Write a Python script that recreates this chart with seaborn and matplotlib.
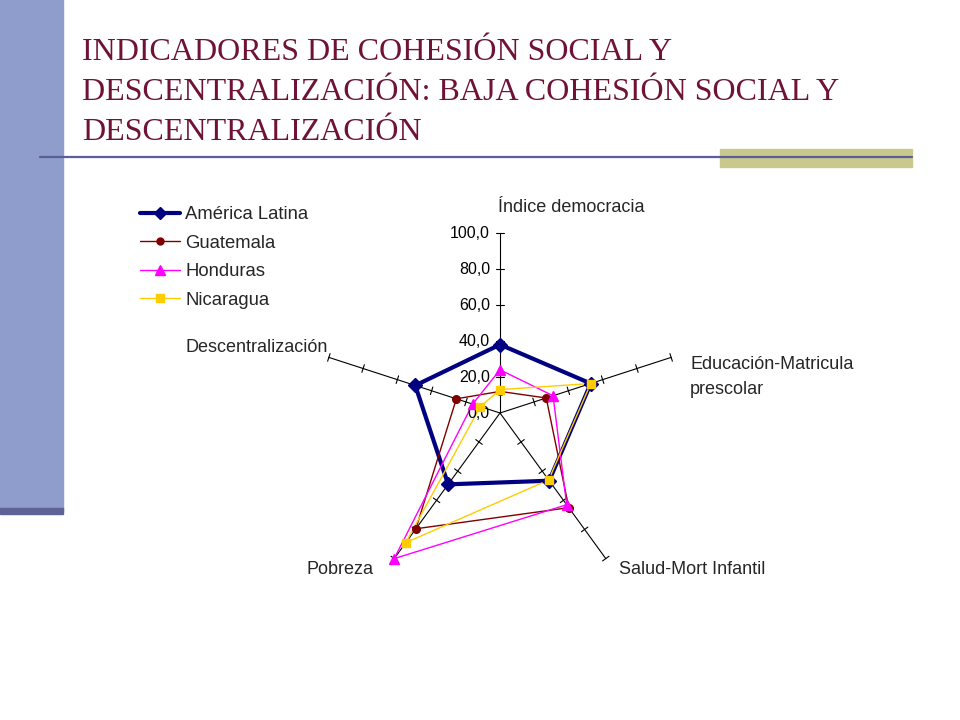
import numpy as np
import pandas as pd
import matplotlib
matplotlib.use('Agg')
import matplotlib.pyplot as plt
from matplotlib.patches import Rectangle
from matplotlib.lines import Line2D
import seaborn as sns

sns.set_style('white')
plt.rcParams['font.family'] = ['Liberation Sans', 'DejaVu Sans']

# data
categories = ['Índice democracia', 'Educación-Matricula\nprescolar', 'Salud-Mort Infantil',
              'Pobreza', 'Descentralización']
america_latina = [38, 53, 46.5, 49, 49.5]
guatemala = [12, 27, 65, 79.5, 25.5]
honduras = [24, 31, 63, 100, 16]
nicaragua = [13, 53, 46, 89, 11.5]
series_names = ['América Latina', 'Guatemala', 'Honduras', 'Nicaragua']
radial_ticks = [0, 20, 40, 60, 80, 100]
radial_labels = ['0,0', '20,0', '40,0', '60,0', '80,0', '100,0']

W, H = 960, 720


def fx(x):
    return x / W


def fy(y):
    return 1 - y / H


fig = plt.figure(figsize=(9.6, 7.2), dpi=100)

# slide decoration
fig.patches.append(Rectangle((0, fy(511)), fx(63), 1 - fy(511), transform=fig.transFigure,
                             color='#8E9DCB', zorder=0))
fig.patches.append(Rectangle((0, fy(514)), fx(63), fy(508) - fy(514), transform=fig.transFigure,
                             color='#5E6296', zorder=0))
fig.patches.append(Rectangle((fx(720), fy(167)), fx(192), fy(149) - fy(167), transform=fig.transFigure,
                             color='#C9C98E', zorder=0))
fig.lines.append(Line2D([fx(40), fx(912)], [fy(157), fy(157)], transform=fig.transFigure,
                        color='#5B5E98', lw=1.6))

title = ['INDICADORES DE COHESIÓN SOCIAL Y',
         'DESCENTRALIZACIÓN: BAJA COHESIÓN SOCIAL Y',
         'DESCENTRALIZACIÓN']
for i, line in enumerate(title):
    fig.text(fx(82), fy(53 + 39.5 * i), line, family='Liberation Serif', fontsize=23,
             color='#701237', va='center', ha='left')

# radar
ax = fig.add_axes([fx(500 - 180), fy(413 + 180), fx(360), 360 / H], projection='polar')
ax.set_theta_zero_location('N')
ax.set_theta_direction(-1)
ax.set_ylim(0, 100)
ax.grid(False)
ax.spines['polar'].set_visible(False)
ax.set_xticks([])
ax.set_yticks([])
ax.patch.set_alpha(0)

n = len(categories)
theta = np.linspace(0, 2 * np.pi, n, endpoint=False)

for th in theta:
    ax.plot([th, th], [0, 100], color='black', lw=0.8, zorder=1, clip_on=False)
    for r in radial_ticks[1:]:
        d = 4 / (r * 1.8)
        ax.plot([th - d, th + d], [r, r], color='black', lw=0.8, zorder=1, clip_on=False)

for r, lab in zip(radial_ticks, radial_labels):
    ax.annotate(lab, xy=(0, r), xytext=(-10, 0), textcoords='offset pixels',
                ha='right', va='center', fontsize=11.5, color='black')

styles = {
    'América Latina': dict(values=america_latina, color='#000080', marker='D', lw=3, ms=7),
    'Guatemala': dict(values=guatemala, color='#800000', marker='o', lw=1, ms=5.5),
    'Honduras': dict(values=honduras, color='#FF00FF', marker='^', lw=1, ms=7),
    'Nicaragua': dict(values=nicaragua, color='#FFCC00', marker='s', lw=1, ms=6),
}

handles = []
for name in series_names:
    st = styles[name]
    df = pd.DataFrame({'theta': np.append(theta, 2 * np.pi),
                       'value': st['values'] + st['values'][:1]})
    sns.lineplot(data=df, x='theta', y='value', ax=ax, sort=False, estimator=None,
                 color=st['color'], lw=st['lw'], zorder=2, clip_on=False)
    ax.plot(theta, st['values'], ls='none', marker=st['marker'], ms=st['ms'],
            color=st['color'], zorder=3, clip_on=False)
    handles.append(Line2D([], [], color=st['color'], lw=st['lw'], marker=st['marker'],
                          ms=st['ms'] - 0.5))
ax.set_xlabel('')
ax.set_ylabel('')

fig.legend(handles, series_names, loc='upper left', bbox_to_anchor=(fx(133), fy(199)),
           frameon=False, fontsize=13.3, handlelength=2.15, handletextpad=0.28,
           labelspacing=0.62, borderaxespad=0)

# category labels
fig.text(fx(498), fy(207), categories[0], fontsize=13, ha='left', va='center')
fig.text(fx(690), fy(377), categories[1], fontsize=13, ha='left', va='center', linespacing=1.65)
fig.text(fx(619), fy(570), categories[2], fontsize=13, ha='left', va='center')
fig.text(fx(374), fy(570), categories[3], fontsize=13, ha='right', va='center')
fig.text(fx(328), fy(347), categories[4], fontsize=13, ha='right', va='center')

fig.savefig('out.png', dpi=100)
